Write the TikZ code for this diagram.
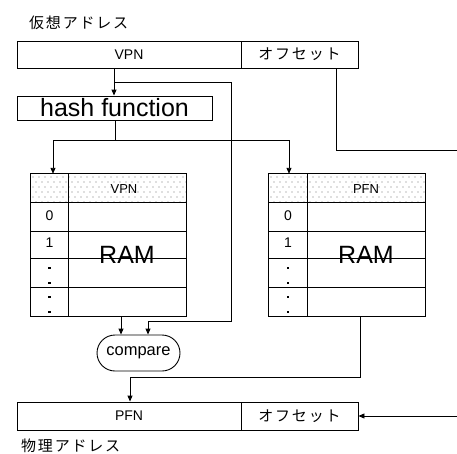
\documentclass[tikz,border=0pt]{standalone}
\usepackage{fontspec}
\setmainfont{Liberation Sans}
\newfontfamily\jpfont[LetterSpace=12]{Noto Sans CJK JP}
\usetikzlibrary{arrows.meta,shapes.misc}
\tikzset{
  box/.style={draw,line width=0.9pt,rectangle,inner sep=0pt,anchor=center},
  line/.style={line width=0.9pt},
  arr/.style={line width=0.9pt,-{Triangle[length=6pt,width=5pt]}},
  jp/.style={font=\jpfont\fontsize{15}{17}\selectfont,inner sep=0pt},
  lbl/.style={font=\fontsize{14}{16}\selectfont,inner sep=0pt},
  big/.style={font=\fontsize{25}{28}\selectfont,inner sep=0pt}
}
\begin{document}
\begin{tikzpicture}[x=1pt,y=-1pt]
\useasboundingbox (0,0) rectangle (457,453);
% top address
\node[jp,anchor=west] (vlabel) at (29,23) {仮想アドレス};
\node[box,minimum width=224pt,minimum height=27pt,lbl] (vpn) at (129,54.5) {VPN};
\node[box,minimum width=117pt,minimum height=27pt,jp] (off) at (299.5,54.5) {オフセット};
% hash
\node[box,minimum width=195pt,minimum height=24pt,big] (hash) at (114.5,108) {hash function};
% tables
\node[draw=none,minimum width=155pt,minimum height=142pt,inner sep=0pt] (ltab) at (108.5,245) {};
\node[draw=none,minimum width=156pt,minimum height=142pt,inner sep=0pt] (rtab) at (347,245) {};
\foreach \t/\x in {ltab/31,rtab/269}{
  \begin{scope}
    \clip (\t.north west) rectangle ([yshift=-28pt]\t.north east);
    \foreach \i in {0,...,30}{
      \foreach \j in {0,...,5}{
        \pgfmathsetmacro{\xx}{\x+2+\i*6+mod(\j,2)*3}
        \fill[black!55] (\xx,{177+\j*5}) circle (0.55pt);
      }
    }
  \end{scope}
}
\foreach \t/\d in {ltab/68,rtab/307}{
  \draw[line width=1pt] (\t.north west) rectangle (\t.south east);
  \draw[line] (\d,174) -- (\d,316);
  \foreach \yy in {202,231,258,287}{
    \draw[line] (\t.west |- 0,\yy) -- (\t.east |- 0,\yy);
  }
}
% header labels
\node[lbl,font=\fontsize{13}{15}\selectfont] (lh) at (124,189) {VPN};
\node[lbl,font=\fontsize{13}{15}\selectfont] (rh) at (366,189) {PFN};
% row labels
\foreach \t/\cx in {l/49.5,r/288}{
  \node[lbl] (\t0) at (\cx,216) {0};
  \node[lbl] (\t1) at (\cx,243) {1};
  \foreach \yy in {268,283,297,312}{
    \fill (\cx-1.2,\yy-1.2) rectangle (\cx+1.2,\yy+1.2);
  }
}
\node[big] (lram) at (127,254.5) {RAM};
\node[big] (rram) at (366,254.5) {RAM};
% compare
\node[draw,line width=0.9pt,rounded rectangle,minimum width=83pt,minimum height=36pt,inner sep=0pt,font=\fontsize{16.5}{18}\selectfont] (cmp) at (138.5,353) {compare};
% bottom address
\node[box,minimum width=224pt,minimum height=28pt,lbl] (pfn) at (129,416) {PFN};
\node[box,minimum width=117pt,minimum height=28pt,jp] (off2) at (299.5,416) {オフセット};
\node[jp,anchor=west] (plabel) at (21,446) {物理アドレス};
% connectors
\coordinate (edgeA) at (457,150);
\coordinate (edgeB) at (457,416);
\draw[arr] (vpn.south -| 114,0) -- (hash.north -| 114,0);
\draw[arr] (114,82) -- (231,82) -- (231,321) -- (148,321) -- (cmp.north -| 148,0);
\draw[line] (hash.south -| 115,0) -- (115,140);
\draw[arr] (115,140) -- (53,140) -- (ltab.north -| 53,0);
\draw[arr] (115,140) -- (289,140) -- (rtab.north -| 289,0);
\draw[arr] (ltab.south -| 121,0) -- (cmp.north -| 121,0);
\draw[arr] (rtab.south -| 360,0) -- (360,377) -- (130,377) -- (pfn.north -| 130,0);
\draw[line] (off.south -| 336,0) -- (336,150) -- (edgeA);
\draw[arr] (edgeB) -- (off2.east);
\end{tikzpicture}
\end{document}
